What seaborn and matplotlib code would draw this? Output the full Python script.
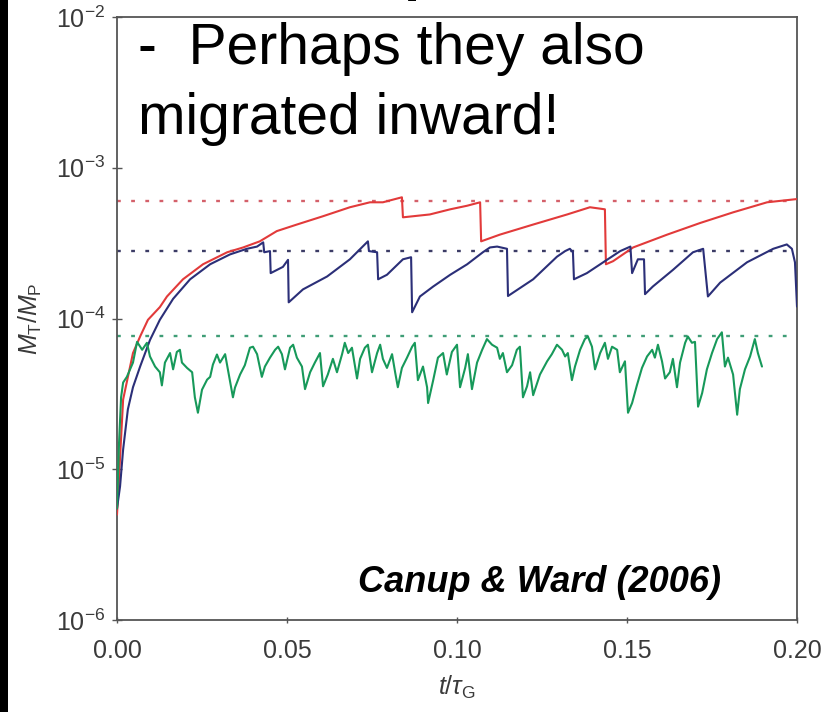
import numpy as np
import pandas as pd
import matplotlib
matplotlib.use("Agg")
import matplotlib.pyplot as plt
import seaborn as sns
from matplotlib.patches import Rectangle

# ---------------- data ----------------
red_t = [0.0, 0.0003, 0.0009, 0.0018, 0.0029, 0.0047, 0.0068, 0.0091, 0.0126, 0.0147,
         0.0194, 0.0253, 0.0324, 0.0371, 0.042, 0.047, 0.0529, 0.0606, 0.0685, 0.0744,
         0.0782, 0.0838, 0.0841, 0.092, 0.098, 0.103, 0.1068, 0.1071, 0.1126, 0.1224,
         0.1324, 0.1391, 0.1435, 0.1438, 0.1459, 0.1518, 0.1618, 0.1715, 0.1812, 0.1912, 0.2]
red_v = [5.0e-6, 6.6e-6, 1.2e-5, 2.9e-5, 3.8e-5, 5.9e-5, 7.6e-5, 9.8e-5, 1.19e-4, 1.4e-4,
         1.82e-4, 2.29e-4, 2.75e-4, 2.96e-4, 3.25e-4, 3.8e-4, 4.2e-4, 4.77e-4, 5.47e-4, 5.9e-4,
         5.9e-4, 6.37e-4, 4.69e-4, 4.9e-4, 5.3e-4, 5.6e-4, 5.9e-4, 3.25e-4, 3.6e-4, 4.2e-4,
         4.9e-4, 5.47e-4, 5.3e-4, 2.29e-4, 2.4e-4, 2.96e-4, 3.6e-4, 4.3e-4, 5.06e-4, 5.9e-4, 6.2e-4]

blue_t = [0.0, 0.0009, 0.0018, 0.0032, 0.0047, 0.0068, 0.0097, 0.0126, 0.0165, 0.0215,
          0.0274, 0.0332, 0.0382, 0.0412, 0.043, 0.0433, 0.045, 0.0452, 0.0488, 0.0503,
          0.0505, 0.0547, 0.0618, 0.0685, 0.0738, 0.0741, 0.0765, 0.0768, 0.0794, 0.0841,
          0.0865, 0.0868, 0.0891, 0.093, 0.098, 0.103, 0.1076, 0.1097, 0.1118, 0.1147,
          0.115, 0.1224, 0.1294, 0.1318, 0.1332, 0.1341, 0.1344, 0.1382, 0.1435, 0.148,
          0.151, 0.1515, 0.1532, 0.155, 0.1553, 0.1576, 0.1635, 0.1694, 0.1724, 0.1738,
          0.1774, 0.1853, 0.193, 0.197, 0.1985, 0.1994, 0.2]
blue_v = [5.5e-6, 7.7e-6, 1.35e-5, 2.5e-5, 3.5e-5, 4.8e-5, 7.2e-5, 9.8e-5, 1.35e-4, 1.82e-4,
          2.29e-4, 2.66e-4, 2.9e-4, 3.0e-4, 3.2e-4, 2.75e-4, 2.8e-4, 2.0e-4, 2.2e-4, 2.45e-4,
          1.28e-4, 1.56e-4, 1.9e-4, 2.47e-4, 3.25e-4, 2.8e-4, 2.75e-4, 1.82e-4, 1.95e-4, 2.47e-4,
          2.55e-4, 1.1e-4, 1.4e-4, 1.63e-4, 1.95e-4, 2.29e-4, 2.75e-4, 2.96e-4, 3.0e-4, 2.9e-4,
          1.41e-4, 1.82e-4, 2.57e-4, 2.8e-4, 2.9e-4, 2.75e-4, 1.82e-4, 2.0e-4, 2.4e-4, 2.8e-4,
          3.0e-4, 2.0e-4, 2.47e-4, 2.47e-4, 1.45e-4, 1.63e-4, 2.1e-4, 2.75e-4, 2.9e-4, 1.4e-4,
          1.73e-4, 2.36e-4, 2.9e-4, 3.1e-4, 2.9e-4, 2.36e-4, 1.2e-4]

green_t = [0.0, 0.0006, 0.0012, 0.0018, 0.0029, 0.0047, 0.0059, 0.0074, 0.0088, 0.0097,
           0.0112, 0.0126, 0.0132, 0.0141, 0.0156, 0.0165, 0.0176, 0.0185, 0.0191, 0.0206,
           0.0221, 0.0229, 0.0238, 0.025, 0.0265, 0.0274, 0.0282, 0.0294, 0.0303, 0.0318,
           0.0326, 0.0341, 0.0347, 0.0362, 0.0376, 0.0391, 0.04, 0.0412, 0.0426, 0.0435,
           0.045, 0.0465, 0.0474, 0.0485, 0.0494, 0.0509, 0.0518, 0.0529, 0.0544, 0.0553,
           0.0568, 0.0582, 0.0597, 0.0606, 0.062, 0.0635, 0.0647, 0.0662, 0.067, 0.068,
           0.0691, 0.0706, 0.0715, 0.0729, 0.0738, 0.075, 0.0765, 0.0774, 0.0782, 0.0794,
           0.0809, 0.0818, 0.0826, 0.0838, 0.0853, 0.0868, 0.0876, 0.0885, 0.09, 0.0912,
           0.0915, 0.093, 0.0944, 0.0959, 0.097, 0.0985, 0.1, 0.1009, 0.1024, 0.1032,
           0.1044, 0.1059, 0.1074, 0.1088, 0.1103, 0.1118, 0.1126, 0.1135, 0.1147, 0.1162,
           0.1176, 0.1185, 0.1194, 0.1206, 0.1215, 0.1224, 0.1244, 0.1265, 0.1279, 0.1294,
           0.1309, 0.1318, 0.1326, 0.1338, 0.1347, 0.1362, 0.1376, 0.1385, 0.1397, 0.1406,
           0.1421, 0.1435, 0.1444, 0.1456, 0.1471, 0.1479, 0.1494, 0.1503, 0.1515, 0.1529,
           0.1544, 0.1559, 0.1574, 0.1582, 0.1591, 0.1603, 0.1612, 0.1626, 0.1635, 0.1647,
           0.1656, 0.1671, 0.1679, 0.1691, 0.17, 0.1709, 0.1721, 0.1735, 0.175, 0.1765,
           0.1779, 0.1788, 0.1797, 0.1812, 0.1824, 0.1832, 0.1847, 0.1862, 0.1876, 0.1885, 0.1897]
green_v = [5.5e-6, 1.5e-5, 3.0e-5, 3.76e-5, 4.1e-5, 5.1e-5, 7.0e-5, 6.2e-5, 6.9e-5, 5.6e-5,
           4.8e-5, 4.4e-5, 3.6e-5, 5.1e-5, 5.9e-5, 4.6e-5, 6.0e-5, 6.2e-5, 5.1e-5, 4.7e-5,
           4.4e-5, 3.0e-5, 2.37e-5, 3.37e-5, 3.93e-5, 4.1e-5, 4.94e-5, 5.77e-5, 5.1e-5, 5.8e-5,
           4.6e-5, 3.0e-5, 3.48e-5, 4.25e-5, 4.9e-5, 6.4e-5, 6.5e-5, 5.8e-5, 4.1e-5, 4.8e-5,
           5.5e-5, 6.2e-5, 6.5e-5, 5.8e-5, 4.6e-5, 6.4e-5, 6.7e-5, 5.5e-5, 4.8e-5, 3.4e-5,
           4.4e-5, 5.1e-5, 5.9e-5, 3.55e-5, 4.25e-5, 5.4e-5, 4.4e-5, 5.8e-5, 6.9e-5, 5.9e-5,
           6.4e-5, 4.0e-5, 5.4e-5, 6.4e-5, 6.7e-5, 4.4e-5, 5.9e-5, 6.7e-5, 5.4e-5, 4.7e-5,
           5.8e-5, 4.4e-5, 3.5e-5, 4.7e-5, 5.5e-5, 6.5e-5, 6.9e-5, 3.9e-5, 4.8e-5, 3.5e-5,
           2.75e-5, 3.9e-5, 5.5e-5, 5.9e-5, 4.25e-5, 6.0e-5, 6.7e-5, 3.5e-5, 4.7e-5, 5.8e-5,
           3.4e-5, 5.1e-5, 6.2e-5, 7.3e-5, 6.7e-5, 6.4e-5, 5.4e-5, 5.9e-5, 4.4e-5, 4.9e-5,
           6.2e-5, 6.5e-5, 3.0e-5, 3.55e-5, 4.4e-5, 3.1e-5, 4.25e-5, 5.2e-5, 5.8e-5, 6.7e-5,
           6.2e-5, 5.6e-5, 5.9e-5, 3.9e-5, 4.8e-5, 6.2e-5, 7.3e-5, 7.6e-5, 6.5e-5, 4.6e-5,
           5.9e-5, 6.9e-5, 5.4e-5, 6.5e-5, 6.2e-5, 4.4e-5, 5.2e-5, 2.37e-5, 2.75e-5, 3.6e-5,
           4.7e-5, 5.6e-5, 6.2e-5, 5.5e-5, 6.7e-5, 5.2e-5, 4.0e-5, 4.4e-5, 5.4e-5, 3.5e-5,
           5.1e-5, 6.9e-5, 7.6e-5, 6.9e-5, 7.0e-5, 2.6e-5, 3.2e-5, 4.6e-5, 5.9e-5, 7.3e-5,
           8.1e-5, 4.8e-5, 5.5e-5, 4.25e-5, 2.3e-5, 3.4e-5, 4.6e-5, 5.6e-5, 7.3e-5, 5.9e-5, 4.8e-5]

ref_levels = [6.0e-4, 2.8e-4, 7.7e-5]          # dotted isolation-mass levels
series_names = ["red", "blue", "green"]
line_colors = ["#e23a3a", "#2b2f78", "#17995a"]
ref_colors = ["#d4606a", "#3c3c66", "#3f9d76"]

x_ticks = [0.0, 0.05, 0.10, 0.15, 0.20]
x_tick_labels = ["0.00", "0.05", "0.10", "0.15", "0.20"]

# ---------------- style ----------------
sns.set_style("white")
plt.rcParams["font.family"] = ["Liberation Sans", "DejaVu Sans"]
plt.rcParams["mathtext.fontset"] = "custom"
plt.rcParams["mathtext.rm"] = "Liberation Sans"
plt.rcParams["mathtext.it"] = "Liberation Sans:italic"
plt.rcParams["mathtext.bf"] = "Liberation Sans:bold"

W, H = 835, 712
fig = plt.figure(figsize=(W / 100, H / 100), dpi=100)
fig.patch.set_facecolor("white")
ax = fig.add_axes([117 / W, 1 - 620 / H, 680 / W, 603 / H])
ax.set_yscale("log")

df = pd.concat([
    pd.DataFrame({"t": red_t, "v": red_v, "series": "red"}),
    pd.DataFrame({"t": blue_t, "v": blue_v, "series": "blue"}),
    pd.DataFrame({"t": green_t, "v": green_v, "series": "green"}),
], ignore_index=True)

for lvl, c in zip(ref_levels, ref_colors):
    ax.axhline(lvl, color=c, lw=1.7, linestyle=(0, (1.6, 4.4)), zorder=1)

sns.lineplot(data=df, x="t", y="v", hue="series", hue_order=series_names,
             palette=dict(zip(series_names, line_colors)), sort=False,
             estimator=None, legend=False, linewidth=1.5, ax=ax, zorder=3)

ax.set_xlim(0, 0.2)
ax.set_ylim(1e-6, 1e-2)
ax.set_xticks(x_ticks)
ax.set_xticklabels(x_tick_labels)

spine_c = "#555555"
for s in ax.spines.values():
    s.set_color(spine_c)
    s.set_linewidth(1.3)

tick_c = "#3a3a3a"
ax.tick_params(axis="x", which="major", direction="inout", length=5, width=1,
               color=spine_c, labelsize=18, labelcolor=tick_c, pad=11)
ax.tick_params(axis="x", which="minor", length=0)
ax.tick_params(axis="y", which="major", direction="inout", length=7, width=1,
               color=spine_c, labelsize=18, labelcolor=tick_c, pad=5)
ax.tick_params(axis="y", which="minor", direction="inout", length=4, width=0.9,
               color=spine_c)
ax.tick_params(left=True, bottom=True)

ax.set_xlabel(r"$t/\tau_{\mathrm{G}}$", fontsize=18, color=tick_c)
ax.set_ylabel(r"$M_{\mathrm{T}}/M_{\mathrm{P}}$", fontsize=18, color=tick_c)
ax.xaxis.set_label_coords(0.5, -0.09)
ax.yaxis.set_label_coords(-0.108, 0.5)

# left black bar of the slide
fig.patches.append(Rectangle((0, 0), 8 / W, 1, transform=fig.transFigure,
                             facecolor="black", edgecolor="none", zorder=10))

# descender of the cut-off slide title (only its tail is inside the slide)
fig.text(403 / W, 1 + 11 / H, "p", fontsize=42, fontweight="bold", color="black",
         va="baseline", ha="left")

# slide overlay text
fig.text(138 / W, 1 - 64 / H, "-  Perhaps they also", fontsize=41, color="black",
         va="baseline", ha="left")
fig.text(138 / W, 1 - 134 / H, "migrated inward!", fontsize=41, color="black",
         va="baseline", ha="left")
fig.text(358 / W, 1 - 592 / H, "Canup & Ward (2006)", fontsize=26,
         fontweight="bold", fontstyle="italic", color="black",
         va="baseline", ha="left")

fig.savefig("out.png", dpi=100)
